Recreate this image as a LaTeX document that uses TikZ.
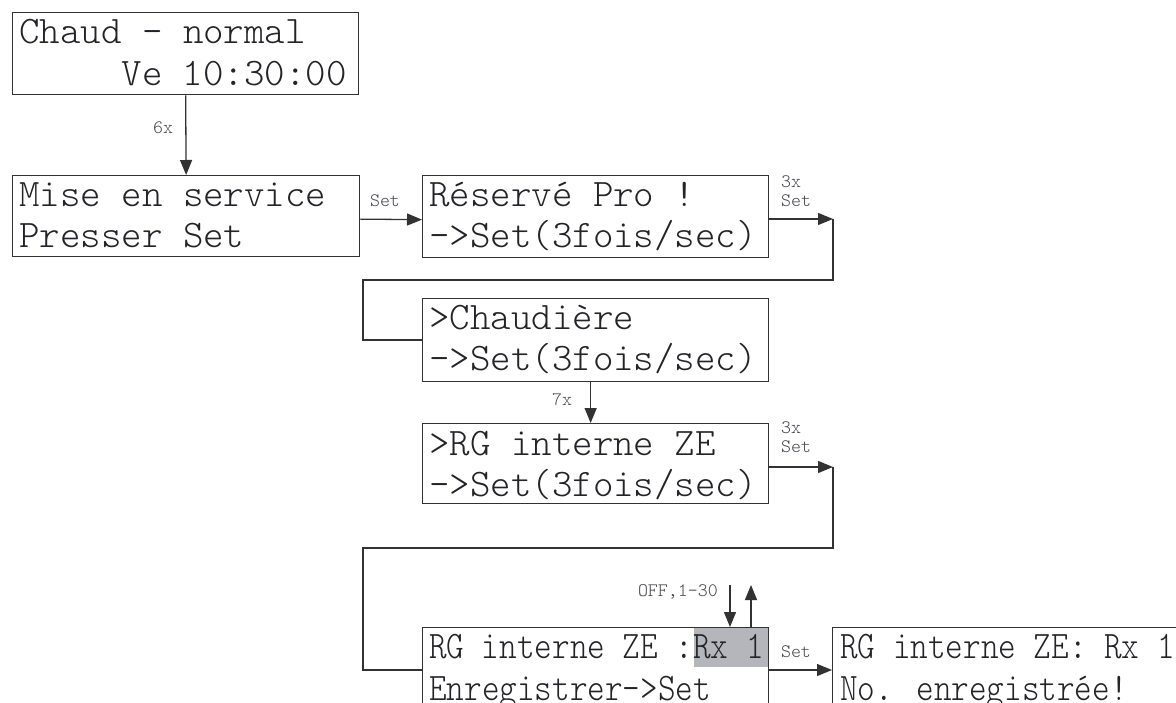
\documentclass[tikz,border=0pt]{standalone}
\usepackage{fontspec}
\newfontfamily\lcd{lmmonolt10-regular.otf}
\newfontfamily\lcdn[FakeStretch=0.86]{lmmonolt10-regular.otf}
\usetikzlibrary{arrows.meta,calc}
\definecolor{ln}{RGB}{50,50,50}
\definecolor{tx}{RGB}{35,35,40}
\definecolor{lbl}{RGB}{70,70,80}
\definecolor{hl}{RGB}{180,182,187}
\tikzset{
  box/.style={draw=ln,line width=1.3pt,rectangle,inner sep=0pt,anchor=north west},
  big/.style={font=\lcd\fontsize{39}{41}\selectfont,text=tx,inner sep=0pt,anchor=base west},
  bign/.style={font=\lcdn\fontsize{39}{41}\selectfont,text=tx,inner sep=0pt,anchor=base west},
  small/.style={font=\lcd\fontsize{19}{21}\selectfont,text=lbl,inner sep=0pt},
  arr/.style={draw=ln,line width=1.3pt,-{Triangle[length=15pt,width=12pt]}},
  ln/.style={draw=ln,line width=1.3pt}
}
\begin{document}
\begin{tikzpicture}[x=1pt,y=-1pt]
\useasboundingbox[fill=white] (0,0) rectangle (1176,703);
\clip (0,0) rectangle (1176,703);
% highlight
\fill[hl] (694,627) rectangle (768,667);
% boxes
\node[box,minimum width=346pt,minimum height=82pt] (b1) at (12,12) {};
\node[box,minimum width=347pt,minimum height=81pt] (b2) at (12,175) {};
\node[box,minimum width=346pt,minimum height=82pt] (b3) at (422,175) {};
\node[box,minimum width=346pt,minimum height=83pt] (b4) at (422,298) {};
\node[box,minimum width=346pt,minimum height=80pt] (b5) at (422,423) {};
\node[box,minimum width=346pt,minimum height=100pt] (b6) at (422,627) {};
\node[box,minimum width=360pt,minimum height=100pt] (b7) at (832,627) {};
% texts
\node[big] (t1a) at (19,44) {Chaud - normal};
\node[big] (t1b) at (19,86) {\ \ \ \ \ Ve 10:30:00};
\node[big] (t2a) at (19,207) {Mise en service};
\node[big] (t2b) at (19,248) {Presser Set};
\node[big] (t3a) at (429,207) {Réservé Pro !};
\node[big] (t3b) at (429,248) {->Set(3fois/sec)};
\node[big] (t4a) at (429,330) {>Chaudière};
\node[big] (t4b) at (429,371) {->Set(3fois/sec)};
\node[big] (t5a) at (429,455) {>RG interne ZE};
\node[big] (t5b) at (429,496) {->Set(3fois/sec)};
\node[bign] (t6a) at (429,658) {RG interne ZE :Rx 1};
\node[bign] (t6b) at (429,700) {Enregistrer->Set};
\node[bign] (t7a) at (840,658) {RG interne ZE: Rx 1};
\node[bign] (t7b) at (840,700) {No. enregistrée!};
% coordinates
\coordinate (c1) at (833,219);
\coordinate (c2) at (363,280);
\coordinate (c3) at (833,467);
\coordinate (c4) at (363,548);
\coordinate (d1) at (730,585);
\coordinate (u1) at (751,585);
% connectors
\draw[arr] (b1.south) -- (b2.north);
\draw[arr] ([yshift=-3pt]b2.east) -- ([yshift=-3pt]b3.west);
\draw[arr] (b3.north east |- c1) -- (c1);
\draw[ln] (c1) |- (c2) |- (b4.west);
\draw[arr] ([xshift=-5pt]b4.south) -- ([xshift=-5pt]b5.north);
\draw[arr] (b5.north east |- c3) -- (c3);
\draw[ln] (c3) |- (c4) |- ([yshift=-43pt]b6.north west);
\draw[arr] ([yshift=-43pt]b6.north east) -- ([yshift=-43pt]b7.north west);
\draw[arr] (d1) -- (d1 |- b6.north);
\draw[arr] (u1 |- b6.north) -- (u1);
% labels
\node[small] (l1) at (163,128) {6x};
\node[small] (l2) at (385,201) {Set};
\node[small,anchor=west] (l3) at (781,182) {3x};
\node[small,anchor=west] (l4) at (781,201) {Set};
\node[small] (l5) at (562,400) {7x};
\node[small,anchor=west] (l6) at (781,428) {3x};
\node[small,anchor=west] (l7) at (781,447) {Set};
\node[small,anchor=east] (l8) at (718,592) {OFF,1-30};
\node[small] (l9) at (796,652) {Set};
\end{tikzpicture}
\end{document}
